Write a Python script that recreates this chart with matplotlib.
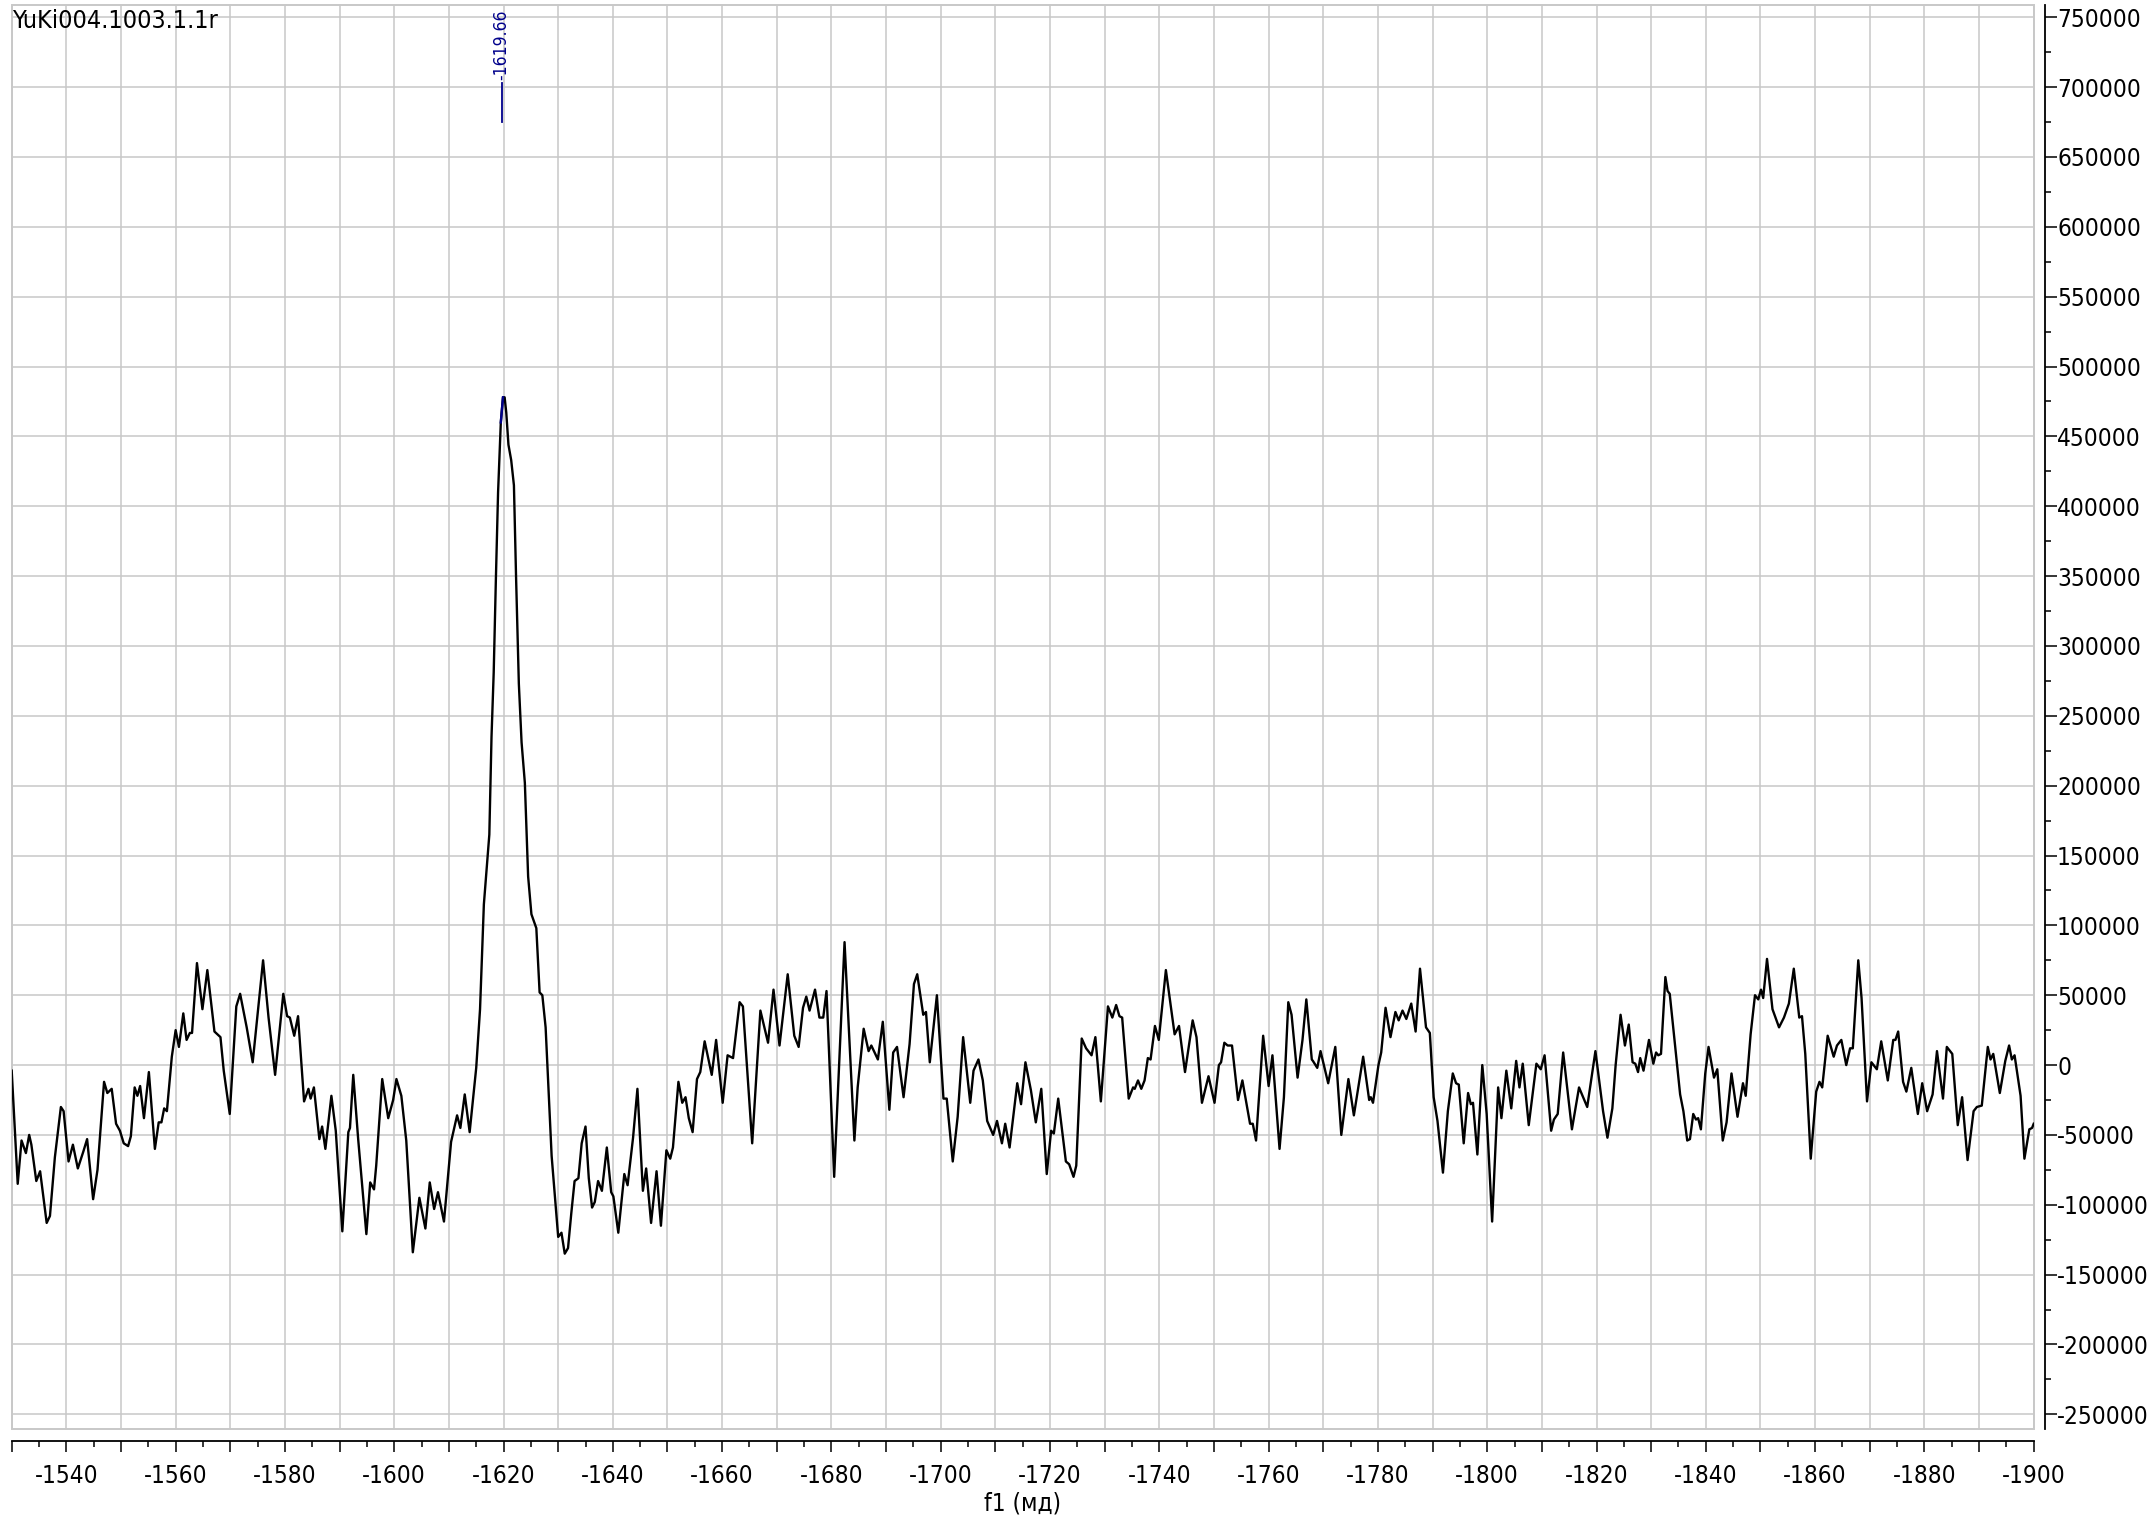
import matplotlib
matplotlib.use('Agg')
import matplotlib.pyplot as plt
from matplotlib.ticker import MultipleLocator, FuncFormatter
from matplotlib.patches import Rectangle

plt.rcParams['font.family'] = ['DejaVu Sans']
plt.rcParams['font.stretch'] = 'condensed'
plt.rcParams['axes.unicode_minus'] = False

# spectrum: chemical shift (ppm) and intensity
shift = [
    -1530.0, -1531.1, -1531.8, -1532.6, -1533.2, -1533.6, -1534.5, -1535.2, -1536.4, -1537.0,
    -1537.9, -1539.0, -1539.5, -1540.4, -1541.2, -1542.1, -1543.1, -1543.8, -1544.9, -1545.7,
    -1546.9, -1547.5, -1548.3, -1549.1, -1549.8, -1550.5, -1551.3, -1551.8, -1552.5, -1553.0,
    -1553.5, -1554.2, -1555.1, -1556.2, -1556.9, -1557.4, -1557.9, -1558.4, -1559.3, -1560.0,
    -1560.6, -1561.4, -1562.0, -1562.6, -1563.0, -1563.9, -1564.9, -1565.8, -1567.1, -1568.2,
    -1568.8, -1569.9, -1571.1, -1571.8, -1573.0, -1574.1, -1576.0, -1577.0, -1578.2, -1579.7,
    -1580.4, -1580.9, -1581.7, -1582.4, -1583.5, -1584.3, -1584.7, -1585.3, -1586.3, -1586.8,
    -1587.4, -1588.5, -1589.3, -1590.5, -1591.6, -1591.9, -1592.5, -1593.4, -1594.9, -1595.6,
    -1596.3, -1596.7, -1597.8, -1598.9, -1599.8, -1600.4, -1601.3, -1602.2, -1603.4, -1604.6,
    -1605.7, -1606.5, -1607.3, -1608.0, -1609.1, -1610.4, -1611.5, -1612.1, -1612.9, -1613.8,
    -1615.0, -1615.7, -1616.4, -1616.9, -1617.4, -1617.8, -1618.2, -1618.6, -1619.0, -1619.5,
    -1619.9, -1620.2, -1620.5, -1620.9, -1621.4, -1621.9, -1622.3, -1622.8, -1623.3, -1623.9,
    -1624.5, -1625.1, -1626.0, -1626.6, -1627.1, -1627.7, -1628.8, -1629.4, -1630.0, -1630.6,
    -1631.2, -1631.8, -1632.4, -1633.0, -1633.7, -1634.3, -1635.0, -1635.6, -1636.2, -1636.7,
    -1637.3, -1638.0, -1638.9, -1639.7, -1640.1, -1641.0, -1642.1, -1642.7, -1643.7, -1644.5,
    -1645.5, -1646.1, -1647.0, -1648.0, -1648.8, -1649.8, -1650.5, -1651.0, -1652.0, -1652.7,
    -1653.3, -1653.9, -1654.6, -1655.4, -1656.0, -1656.8, -1658.1, -1658.9, -1660.1, -1661.0,
    -1662.0, -1663.2, -1663.8, -1665.5, -1667.0, -1668.4, -1669.4, -1670.5, -1672.0, -1673.2,
    -1674.0, -1674.8, -1675.4, -1676.0, -1677.0, -1677.8, -1678.5, -1679.1, -1680.5, -1682.4,
    -1684.2, -1684.8, -1685.9, -1686.8, -1687.3, -1688.5, -1689.4, -1690.6, -1691.3, -1692.0,
    -1693.2, -1694.3, -1695.1, -1695.7, -1696.8, -1697.3, -1698.0, -1699.3, -1700.5, -1701.1,
    -1702.2, -1703.1, -1704.1, -1705.4, -1706.0, -1706.9, -1707.7, -1708.5, -1709.6, -1710.3,
    -1711.2, -1711.8, -1712.6, -1714.0, -1714.7, -1715.5, -1716.5, -1717.4, -1718.4, -1719.4,
    -1720.2, -1720.7, -1721.5, -1722.9, -1723.5, -1724.3, -1724.8, -1725.8, -1726.6, -1727.6,
    -1728.3, -1729.3, -1730.6, -1731.4, -1732.1, -1732.7, -1733.2, -1734.4, -1735.2, -1735.5,
    -1736.1, -1736.7, -1737.3, -1737.9, -1738.4, -1739.2, -1739.9, -1741.2, -1742.8, -1743.6,
    -1744.7, -1746.1, -1746.8, -1747.8, -1749.0, -1750.1, -1750.9, -1751.3, -1751.9, -1752.5,
    -1753.3, -1754.4, -1755.2, -1756.6, -1757.1, -1757.7, -1759.0, -1760.0, -1760.7, -1762.0,
    -1762.8, -1763.6, -1764.2, -1765.3, -1766.2, -1766.9, -1767.9, -1768.1, -1768.9, -1769.5,
    -1770.9, -1772.2, -1773.3, -1774.6, -1775.6, -1777.3, -1778.4, -1778.7, -1779.1, -1780.1,
    -1780.6, -1781.4, -1782.3, -1783.2, -1783.8, -1784.5, -1785.2, -1786.1, -1786.9, -1787.7,
    -1788.8, -1789.5, -1790.2, -1790.9, -1791.9, -1792.8, -1793.7, -1794.3, -1794.8, -1795.7,
    -1796.5, -1797.0, -1797.4, -1798.2, -1799.1, -1799.9, -1800.9, -1802.0, -1802.6, -1803.5,
    -1804.4, -1805.3, -1805.9, -1806.5, -1807.6, -1809.0, -1809.8, -1810.5, -1811.7, -1812.2,
    -1812.9, -1813.9, -1815.5, -1816.8, -1818.3, -1819.8, -1821.2, -1822.0, -1822.9, -1823.5,
    -1824.4, -1825.2, -1825.9, -1826.6, -1827.1, -1827.6, -1828.0, -1828.6, -1829.6, -1830.4,
    -1830.9, -1831.3, -1831.8, -1832.6, -1833.0, -1833.4, -1835.3, -1835.9, -1836.6, -1837.1,
    -1837.7, -1838.2, -1838.6, -1839.1, -1839.9, -1840.5, -1841.5, -1842.1, -1843.1, -1843.8,
    -1844.7, -1845.8, -1846.8, -1847.3, -1848.2, -1849.0, -1849.6, -1850.1, -1850.5, -1851.2,
    -1852.2, -1853.4, -1854.3, -1855.2, -1856.1, -1857.1, -1857.6, -1858.2, -1859.2, -1860.2,
    -1860.8, -1861.3, -1862.3, -1863.4, -1864.0, -1864.8, -1865.7, -1866.4, -1866.9, -1867.9,
    -1868.5, -1869.5, -1870.3, -1871.3, -1872.1, -1873.3, -1874.3, -1874.7, -1875.2, -1876.1,
    -1876.7, -1877.6, -1878.8, -1879.6, -1880.5, -1881.5, -1882.3, -1883.4, -1884.1, -1885.1,
    -1886.1, -1886.9, -1887.9, -1889.0, -1889.6, -1890.5, -1891.6, -1892.1, -1892.6, -1893.8,
    -1894.8, -1895.5, -1896.0, -1896.5, -1897.6, -1898.3, -1899.2, -1899.7, -1900.0,
]
intensity_k = [
    -4, -85, -54, -63, -50, -57, -83, -76, -113, -108,
    -66, -30, -33, -69, -57, -74, -62, -53, -96, -75,
    -12, -20, -17, -42, -47, -56, -58, -51, -16, -22,
    -15, -38, -5, -60, -41, -41, -31, -33, 6, 25,
    13, 37, 18, 23, 23, 73, 40, 68, 24, 20,
    -4, -35, 42, 51, 27, 2, 75, 34, -7, 51,
    35, 34, 21, 35, -26, -17, -24, -16, -53, -44,
    -60, -22, -47, -119, -48, -45, -7, -53, -121, -84,
    -89, -72, -10, -38, -25, -10, -22, -54, -134, -95,
    -117, -84, -103, -91, -112, -55, -36, -45, -21, -48,
    -2, 40, 115, 140, 165, 235, 281, 348, 410, 460,
    478, 478, 467, 444, 433, 415, 348, 273, 231, 202,
    135, 108, 98, 52, 50, 27, -65, -94, -123, -120,
    -135, -131, -106, -83, -81, -56, -44, -81, -102, -98,
    -83, -90, -59, -91, -94, -120, -78, -86, -52, -17,
    -90, -74, -113, -76, -115, -61, -67, -59, -12, -27,
    -23, -38, -48, -10, -5, 17, -7, 18, -27, 7,
    5, 45, 42, -56, 39, 16, 54, 14, 65, 21,
    13, 41, 49, 39, 54, 34, 34, 53, -80, 88,
    -54, -16, 26, 10, 14, 4, 31, -32, 9, 13,
    -23, 15, 58, 65, 36, 38, 2, 50, -24, -24,
    -69, -37, 20, -27, -4, 4, -11, -40, -50, -40,
    -56, -42, -59, -13, -28, 2, -18, -41, -17, -78,
    -47, -49, -24, -69, -71, -80, -72, 19, 12, 7,
    20, -26, 42, 34, 43, 35, 34, -24, -16, -17,
    -11, -17, -11, 5, 4, 28, 18, 68, 22, 28,
    -5, 32, 20, -27, -8, -27, 0, 2, 16, 14,
    14, -25, -11, -42, -42, -54, 21, -15, 7, -60,
    -23, 45, 36, -9, 18, 47, 4, 3, -2, 10,
    -13, 13, -50, -10, -36, 6, -25, -23, -27, 0,
    9, 41, 20, 38, 32, 39, 33, 44, 24, 69,
    27, 23, -23, -40, -77, -33, -6, -13, -14, -56,
    -20, -28, -27, -64, 0, -35, -112, -16, -38, -4,
    -31, 3, -16, 1, -43, 1, -3, 7, -47, -39,
    -35, 9, -46, -16, -30, 10, -33, -52, -31, 0,
    36, 14, 29, 2, 1, -5, 5, -4, 18, 1,
    9, 7, 8, 63, 53, 51, -21, -33, -54, -53,
    -35, -39, -38, -46, -6, 13, -9, -3, -54, -41,
    -6, -37, -13, -22, 22, 50, 47, 54, 48, 76,
    40, 27, 34, 44, 69, 34, 35, 8, -67, -19,
    -12, -16, 21, 6, 14, 18, 0, 12, 12, 75,
    48, -26, 2, -3, 17, -11, 18, 18, 24, -12,
    -19, -2, -35, -13, -33, -21, 10, -24, 13, 8,
    -43, -23, -68, -33, -30, -29, 13, 4, 8, -20,
    3, 14, 4, 7, -22, -67, -46, -45, -42,
]
intensity = [v * 1000 for v in intensity_k]

peak_shift = -1619.66
peak_label = '-1619.66'
title = 'YuKi004.1003.1.1r'

W, H = 2155, 1519
fig = plt.figure(figsize=(W / 100, H / 100), dpi=100)
ax_left, ax_right, ax_top, ax_bottom = 11.7, 2033.7, 5, 1429
ax = fig.add_axes([ax_left / W, 1 - ax_bottom / H, (ax_right - ax_left) / W, (ax_bottom - ax_top) / H])

grid_c = '#c8c8c8'
ax.plot(shift, intensity, color='black', lw=1.7, zorder=3, solid_joinstyle='round')
ax.plot([-1619.5, -1619.9], [460000, 478000], color='#00008b', lw=1.7, zorder=4)

ax.set_xlim(-1530, -1900)
ax.set_ylim(-260500, 758800)

# peak pick marker
ax.plot([peak_shift, peak_shift], [675000, 703000], color='#00008b', lw=1.3, zorder=4)
ax.text(peak_shift, 705000, peak_label, rotation=90, ha='center', va='bottom',
        color='#00008b', fontsize=12.5)

ax.xaxis.set_major_locator(MultipleLocator(10))
ax.xaxis.set_minor_locator(MultipleLocator(5))
ax.xaxis.set_major_formatter(FuncFormatter(lambda v, p: '%d' % round(v) if round(v) % 20 == 0 else ''))
ax.yaxis.set_major_locator(MultipleLocator(50000))
ax.yaxis.set_minor_locator(MultipleLocator(25000))
ax.yaxis.set_major_formatter(FuncFormatter(lambda v, p: '%d' % round(v)))
ax.yaxis.tick_right()

ax.grid(True, which='major', color=grid_c, lw=1.1, zorder=0)
ax.set_axisbelow(True)

for s in ['left', 'top']:
    ax.spines[s].set_visible(False)
ax.spines['bottom'].set_position(('outward', 8.6))
ax.spines['right'].set_position(('outward', 7.9))
ax.spines['bottom'].set_linewidth(1.3)
ax.spines['right'].set_linewidth(1.3)
ax.add_patch(Rectangle((0, 0), 1, 1, transform=ax.transAxes, fill=False,
                       edgecolor=grid_c, lw=1.4, zorder=1, clip_on=False))

ax.tick_params(axis='x', which='major', length=7.7, width=1.1, pad=9, labelsize=17.5, direction='out')
ax.tick_params(axis='x', which='minor', length=4, width=1.1, direction='out')
ax.tick_params(axis='y', which='major', length=8.4, width=1.1, pad=0.5, labelsize=17.5, direction='out')
ax.tick_params(axis='y', which='minor', length=4.3, width=1.1, direction='out')

fig.text(12 / W, 1 - 9 / H, title, ha='left', va='top', fontsize=18)
fig.text((ax_left + ax_right) / 2 / W, 1 - 1503 / H, 'f1 (мд)', ha='center', va='center', fontsize=17.5)

fig.savefig('out.png', dpi=100)
